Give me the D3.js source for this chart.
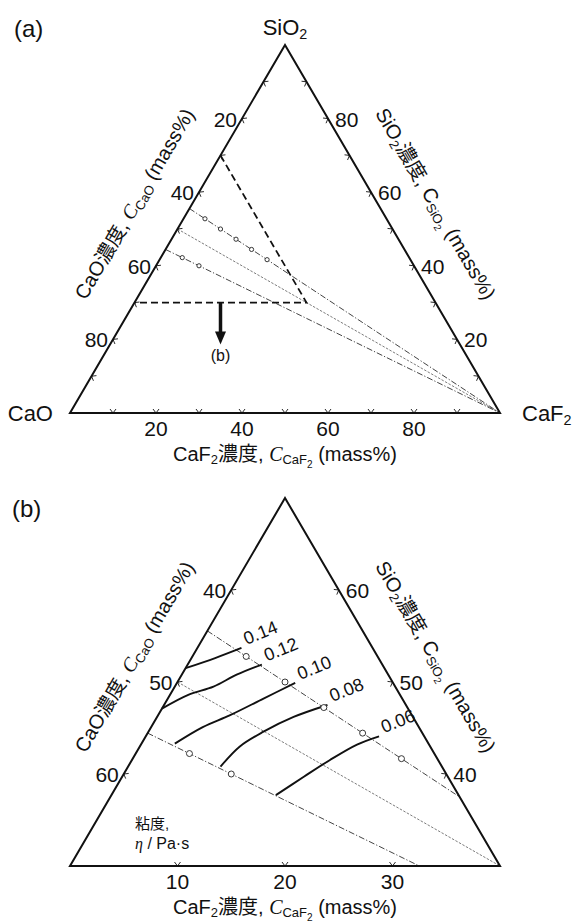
<!DOCTYPE html>
<html>
<head>
<meta charset="utf-8">
<style>
body { margin: 0; background: #fff; }
text { font-family: 'Liberation Sans', Arial, 'Noto Sans CJK JP', sans-serif; fill: #111; }
</style>
</head>
<body>
<script src="https://d3js.org/d3.v7.min.js"></script>
<script>
var width = 577, height = 922;

// CaO/SiO2 mass ratio of the pseudo-binary lines toward CaF2
var csRatios = [0.8, 1.0, 1.25];
// measured compositions on the lines (CaF2 mass%)
var pointsCS08 = [5, 10, 15, 20, 25];
var pointsCS125 = [5, 10];

// iso-viscosity curves, points are [CaF2, SiO2] in mass%
var contourLevels = ['0.14', '0.12', '0.10', '0.08', '0.06'];
var contour014 = [[0, 51.5], [2.2, 52.6], [4.1, 53.7]];
var contour012 = [[0, 47.1], [1.7, 48.6], [3.6, 49.5], [5.1, 50.8], [6.9, 51.9]];
var contour010 = [[3.1, 43.3], [4.8, 45.1], [6.7, 46.4], [8.9, 48.2], [11.0, 49.9]];
var contour008 = [[8.6, 40.8], [9.3, 43.0], [10.7, 44.6], [12.7, 46.2], [15.2, 47.5]];
var contour006 = [[15.3, 37.7], [16.9, 39.7], [18.4, 41.5], [20.1, 43.2], [21.7, 44.1]];
var contours = [contour014, contour012, contour010, contour008, contour006];

// outline of the enlarged region shown in (b), [CaF2, SiO2]
var regionB = [[0, 70], [40, 30], [0, 30]];

// ticks
var aTicks = [10, 20, 30, 40, 50, 60, 70, 80, 90];
var aTickLabels = [20, 40, 60, 80];
var bBottomTicks = [10, 20, 30];
var bLeftTicks = [40, 50, 60];
var bRightTicks = [60, 50, 40];

var svg = d3.select('body').append('svg')
  .attr('width', width).attr('height', height);

// ternary projection: SiO2 on the vertical, CaF2 along the base
function makeTernary(sMin, span, yBase) {
  var xs = d3.scaleLinear().domain([0, span]).range([70, 500]);
  var ys = d3.scaleLinear().domain([sMin, sMin + span]).range([yBase, yBase - 368]);
  var p = function(caf2, sio2) { return [xs(caf2 + (sio2 - sMin) / 2), ys(sio2)]; };
  p.sMin = sMin;
  p.span = span;
  p.caoTop = 100 - sMin - span;
  return p;
}

function richText(g, parts, size) {
  var t = g.append('text').attr('font-size', size);
  var level = 0;
  parts.forEach(function(d) {
    var lv = d.s || 0;
    var ts = t.append('tspan').text(d.t);
    var sz = lv == 0 ? size : (lv == 1 ? size * 0.65 : size * 0.5);
    ts.attr('font-size', sz);
    if (lv != level) ts.attr('dy', (lv - level) * size * 0.17);
    if (d.it) ts.attr('font-style', 'italic').style('font-family', "'Liberation Serif', serif");
    level = lv;
  });
  return t;
}

function chevron(g, pt, n) {
  var t = [-n[1], n[0]];
  g.append('path')
    .attr('d', 'M' + (pt[0] + n[0] * 4 + t[0] * 3) + ',' + (pt[1] + n[1] * 4 + t[1] * 3) +
      'L' + pt[0] + ',' + pt[1] +
      'L' + (pt[0] + n[0] * 4 - t[0] * 3) + ',' + (pt[1] + n[1] * 4 - t[1] * 3))
    .attr('fill', 'none').attr('stroke', '#111').attr('stroke-width', 0.9);
}

function unit(a, b) {
  var dx = b[0] - a[0], dy = b[1] - a[1], l = Math.sqrt(dx * dx + dy * dy);
  return [dx / l, dy / l];
}

function drawFrame(g, p, bottomTicks, bottomLabels, leftTicks, leftLabels, rightTicks, rightLabels) {
  var top = p(0, p.sMin + p.span), bl = p(0, p.sMin), br = p(p.span, p.sMin);
  g.append('path')
    .attr('d', 'M' + top + 'L' + bl + 'L' + br + 'Z')
    .attr('fill', 'none').attr('stroke', '#111').attr('stroke-width', 2)
    .attr('stroke-linejoin', 'miter');

  var uL = unit(bl, top), uR = unit(br, top);
  var nB = [0, -1];
  var nL = [-uL[1], uL[0]]; if (nL[0] < 0) nL = [uL[1], -uL[0]];
  var nR = [-uR[1], uR[0]]; if (nR[0] > 0) nR = [uR[1], -uR[0]];

  bottomTicks.forEach(function(v) { chevron(g, p(v, p.sMin), nB); });
  leftTicks.forEach(function(v) { chevron(g, p(0, 100 - v), nL); });
  rightTicks.forEach(function(v) { chevron(g, p(100 - v - p.caoTop, v), nR); });

  bottomLabels.forEach(function(v) {
    var pt = p(v, p.sMin);
    g.append('text').attr('x', pt[0]).attr('y', pt[1] + 23)
      .attr('text-anchor', 'middle').attr('font-size', 21).text(v);
  });
  leftLabels.forEach(function(v) {
    var pt = p(0, 100 - v);
    g.append('text').attr('x', pt[0] - 5).attr('y', pt[1] + 8)
      .attr('text-anchor', 'end').attr('font-size', 21).text(v);
  });
  rightLabels.forEach(function(v) {
    var pt = p(100 - v - p.caoTop, v);
    g.append('text').attr('x', pt[0] + 7).attr('y', pt[1] + 8)
      .attr('text-anchor', 'start').attr('font-size', 21).text(v);
  });

  // axis titles
  var ang = Math.atan2(top[1] - bl[1], top[0] - bl[0]) * 180 / Math.PI;
  var mL = [(top[0] + bl[0]) / 2 - nL[0] * 50, (top[1] + bl[1]) / 2 - nL[1] * 50];
  var tl = richText(g, [{t: 'CaO濃度, '}, {t: 'C', it: 1}, {t: 'CaO', s: 1}, {t: ' (mass%)'}], 20);
  tl.attr('text-anchor', 'middle')
    .attr('transform', 'translate(' + mL + ') rotate(' + ang + ') translate(0,7)');

  var mR = [(top[0] + br[0]) / 2 - nR[0] * 50, (top[1] + br[1]) / 2 - nR[1] * 50];
  var tr = richText(g, [{t: 'SiO'}, {t: '2', s: 1}, {t: '濃度, '}, {t: 'C'}, {t: 'SiO', s: 1}, {t: '2', s: 2}, {t: ' (mass%)'}], 20);
  tr.attr('text-anchor', 'middle')
    .attr('transform', 'translate(' + mR + ') rotate(' + (-ang) + ') translate(0,7)');

  var tb = richText(g, [{t: 'CaF'}, {t: '2', s: 1}, {t: '濃度, '}, {t: 'C', it: 1}, {t: 'CaF', s: 1}, {t: '2', s: 2}, {t: ' (mass%)'}], 20);
  tb.attr('text-anchor', 'middle')
    .attr('transform', 'translate(' + ((bl[0] + br[0]) / 2) + ',' + (bl[1] + 48) + ')');
}

function csLines(g, p) {
  var line = d3.line().x(function(d) { return d[0]; }).y(function(d) { return d[1]; });
  csRatios.forEach(function(r, i) {
    var s0 = 100 / (1 + r);
    g.append('path')
      .attr('d', line([p(0, s0), p(100, 0)]))
      .attr('fill', 'none')
      .attr('stroke', i == 1 ? '#444' : '#222')
      .attr('stroke-width', i == 1 ? 0.7 : 0.85)
      .attr('stroke-dasharray', i == 1 ? '2.5,1.5' : '6,2,1.2,2');
  });
}

function markers(g, p, rad) {
  var sets = [[pointsCS08, 0.8], [pointsCS125, 1.25]];
  sets.forEach(function(s) {
    g.selectAll(null).data(s[0]).enter().append('circle')
      .attr('cx', function(f) { return p(f, (100 - f) / (1 + s[1]))[0]; })
      .attr('cy', function(f) { return p(f, (100 - f) / (1 + s[1]))[1]; })
      .attr('r', rad)
      .attr('fill', '#fff').attr('stroke', '#222').attr('stroke-width', 0.9);
  });
}

// ---------- panel (a) ----------
var pa = makeTernary(0, 100, 413);
var ga = svg.append('g');

ga.append('text').attr('x', 14).attr('y', 37).attr('font-size', 24).text('(a)');

csLines(ga, pa);

ga.append('path')
  .attr('d', d3.line()(regionB.map(function(d) { return pa(d[0], d[1]); })))
  .attr('fill', 'none').attr('stroke', '#111').attr('stroke-width', 1.8)
  .attr('stroke-dasharray', '7,4');

markers(ga, pa, 2.1);

drawFrame(ga, pa, aTicks, aTickLabels, aTicks, aTickLabels, aTicks, aTickLabels);

// vertex labels
var vTop = pa(0, 100), vL = pa(0, 0), vR = pa(100, 0);
richText(ga, [{t: 'SiO'}, {t: '2', s: 1}], 22)
  .attr('text-anchor', 'middle').attr('x', vTop[0]).attr('y', vTop[1] - 10);
ga.append('text').attr('x', vL[0] - 17).attr('y', vL[1] + 8)
  .attr('text-anchor', 'end').attr('font-size', 22).text('CaO');
richText(ga, [{t: 'CaF'}, {t: '2', s: 1}], 22)
  .attr('x', vR[0] + 22).attr('y', vR[1] + 8);

// arrow to (b)
var a0 = pa(20, 30);
ga.append('line')
  .attr('x1', a0[0]).attr('y1', a0[1]).attr('x2', a0[0]).attr('y2', a0[1] + 31)
  .attr('stroke', '#111').attr('stroke-width', 3.5);
ga.append('path')
  .attr('d', 'M' + (a0[0] - 5.5) + ',' + (a0[1] + 29) + 'L' + (a0[0] + 5.5) + ',' + (a0[1] + 29) +
    'L' + a0[0] + ',' + (a0[1] + 42) + 'Z')
  .attr('fill', '#111');
ga.append('text').attr('x', a0[0]).attr('y', a0[1] + 58)
  .attr('text-anchor', 'middle').attr('font-size', 16).text('(b)');

// ---------- panel (b) ----------
var pb = makeTernary(30, 40, 866);
var gb = svg.append('g');

gb.append('text').attr('x', 12).attr('y', 517).attr('font-size', 24).text('(b)');

var clipPts = [pb(0, 70), pb(0, 30), pb(40, 30)];
svg.append('clipPath').attr('id', 'clipB')
  .append('path').attr('d', 'M' + clipPts[0] + 'L' + clipPts[1] + 'L' + clipPts[2] + 'Z');

csLines(gb.append('g').attr('clip-path', 'url(#clipB)'), pb);

var curve = d3.line()
  .x(function(d) { return pb(d[0], d[1])[0]; })
  .y(function(d) { return pb(d[0], d[1])[1]; })
  .curve(d3.curveCatmullRom);

contours.forEach(function(c, i) {
  gb.append('path').attr('d', curve(c))
    .attr('fill', 'none').attr('stroke', '#111').attr('stroke-width', 1.9);
  var e = pb(c[c.length - 1][0], c[c.length - 1][1]);
  gb.append('text')
    .attr('transform', 'translate(' + (e[0] + 5) + ',' + (e[1] - 3) + ') rotate(-22)')
    .attr('font-size', 18).text(contourLevels[i]);
});

markers(gb, pb, 3);

drawFrame(gb, pb, bBottomTicks, bBottomTicks, bLeftTicks, bLeftTicks, bRightTicks, bRightTicks);

var bl = pb(0, 30);
gb.append('text').attr('x', bl[0] + 65).attr('y', bl[1] - 37).attr('font-size', 15).text('粘度,');
var vt = gb.append('text').attr('x', bl[0] + 65).attr('y', bl[1] - 17).attr('font-size', 16);
vt.append('tspan').text('η').attr('font-style', 'italic').style('font-family', "'Liberation Serif', serif");
vt.append('tspan').text(' / Pa·s');
</script>
</body>
</html>
